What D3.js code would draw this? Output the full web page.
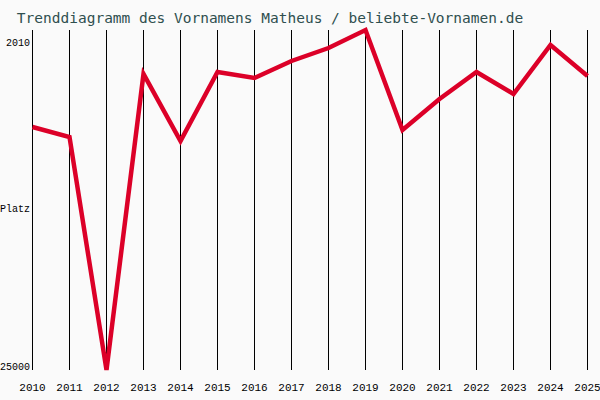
<!DOCTYPE html><html><head><meta charset="utf-8"><script src="https://cdn.jsdelivr.net/npm/d3@7"></script>
<style>body{margin:0;background:#fafafa}</style></head><body><svg id="c" width="600" height="400"></svg>
<script>
const years=[2010,2011,2012,2013,2014,2015,2016,2017,2018,2019,2020,2021,2022,2023,2024,2025];
const ranks=[8570,9245,25000,4985,9516,4850,5256,4106,3227,2010,8772,6676,4850,6337,3024,5120];
const yTicks=[2010,25000];
const svg=d3.select("#c");
svg.append("rect").attr("width",600).attr("height",400).attr("fill","#fafafa");
const x=d3.scaleLinear().domain([2010,2025]).range([32.5,587.5]);
const y=d3.scaleLinear().domain([2010,25000]).range([30,370]);
svg.append("g").selectAll("line").data(years).join("line")
 .attr("x1",d=>x(d)).attr("x2",d=>x(d)).attr("y1",30).attr("y2",370).attr("stroke","#000").attr("stroke-width",1);
svg.append("g").selectAll("text").data(years).join("text")
 .attr("x",d=>x(d)).attr("y",391).attr("text-anchor","middle").attr("font-family","Liberation Mono").attr("font-size",11).text(d=>d);
svg.append("g").selectAll("text").data(yTicks).join("text")
 .attr("x",30).attr("y",(d,i)=>i?370:46).attr("text-anchor","end").attr("font-family","Liberation Mono").attr("font-size",10).text(d=>d);
svg.append("text").attr("x",0).attr("y",212).attr("font-family","Liberation Mono").attr("font-size",10).text("Platz");
svg.append("path").datum(years.map((d,i)=>[d,ranks[i]]))
 .attr("d",d3.line().x(d=>x(d[0])).y(d=>y(d[1])))
 .attr("fill","none").attr("stroke","#dc0028").attr("stroke-width",4.5).attr("stroke-linejoin","miter");
svg.append("text").attr("x",270).attr("y",23).attr("text-anchor","middle").attr("font-family","DejaVu Sans Mono").attr("font-size",14.5).attr("fill","#2f4f4f").text("Trenddiagramm des Vornamens Matheus / beliebte-Vornamen.de");
</script></body></html>
